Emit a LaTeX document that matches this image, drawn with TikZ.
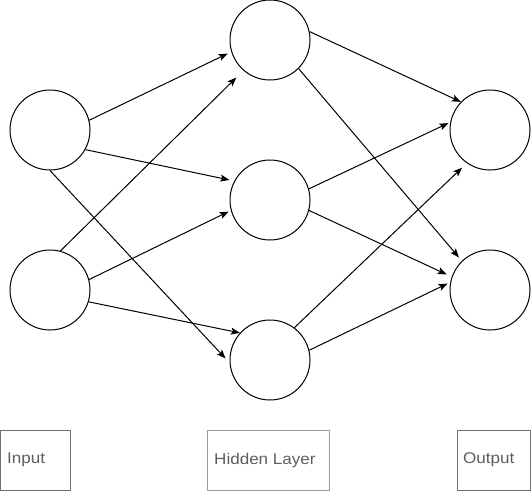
\documentclass[tikz,border=0pt]{standalone}
\usepackage{fontspec}
\setmainfont{Liberation Sans}[FakeStretch=1.1]
\usetikzlibrary{arrows.meta}
\definecolor{txtgray}{HTML}{5E5E5E}
\definecolor{boxgray}{HTML}{707070}
\definecolor{boxlight}{HTML}{9A9A9A}
\begin{document}
\begin{tikzpicture}[x=1pt,y=-1pt,
  neuron/.style={circle,draw=black,line width=1pt,minimum size=80pt,inner sep=0pt},
  conn/.style={line width=1pt,-{Stealth[length=9pt,width=7pt,inset=2pt]}},
  labelbox/.style={draw=boxgray,line width=1pt,minimum height=60pt,inner sep=0pt},
  lbl/.style={text=txtgray,font=\fontsize{15.5pt}{18pt}\selectfont,anchor=west,inner sep=0pt}]
\useasboundingbox (0,0) rectangle (531,491);
% neurons
\node[neuron] (i1) at (50,130) {};
\node[neuron] (i2) at (50,290) {};
\node[neuron] (h1) at (270,40) {};
\node[neuron] (h2) at (270,200) {};
\node[neuron] (h3) at (270,360) {};
\node[neuron] (o1) at (490,130) {};
\node[neuron] (o2) at (490,290) {};
% connections input -> hidden
\draw[conn,shorten >=4pt] (i1.14) -- (h1.197);
\draw[conn,shorten >=5pt] (i1.331) -- (h2.152);
\draw[conn,shorten >=6pt] (i1.270) -- (h3.184);
\draw[conn,shorten >=10pt] (i2.75) -- (h1.229);
\draw[conn,shorten >=2.5pt] (i2.15) -- (h2.195);
\draw[conn] (i2.343) -- (h3.138);
% connections hidden -> output
\draw[conn] (h1.12) -- (o1.136);
\draw[conn,shorten >=4.5pt] (h1.315) -- (o2.134);
\draw[conn,shorten >=2pt] (h2.16) -- (o1.169);
\draw[conn,shorten >=5.5pt] (h2.345) -- (o2.161);
\draw[conn,shorten >=6.5pt] (h3.53) -- (o1.235);
\draw[conn,shorten >=3pt] (h3.14) -- (o2.169);
% label boxes
\node[labelbox,minimum width=69.5pt] (bin) at (35.25,460) {};
\node[labelbox,draw=boxlight,minimum width=122pt] (bhid) at (268,460) {};
\node[labelbox,minimum width=73.5pt] (bout) at (493.75,460) {};
\node[lbl] (tin) at ([xshift=7pt]bin.west) {Input};
\node[lbl] (thid) at ([xshift=7.5pt]bhid.west) {Hidden Layer};
\node[lbl] (tout) at ([xshift=6.5pt]bout.west) {Output};
\end{tikzpicture}
\end{document}
